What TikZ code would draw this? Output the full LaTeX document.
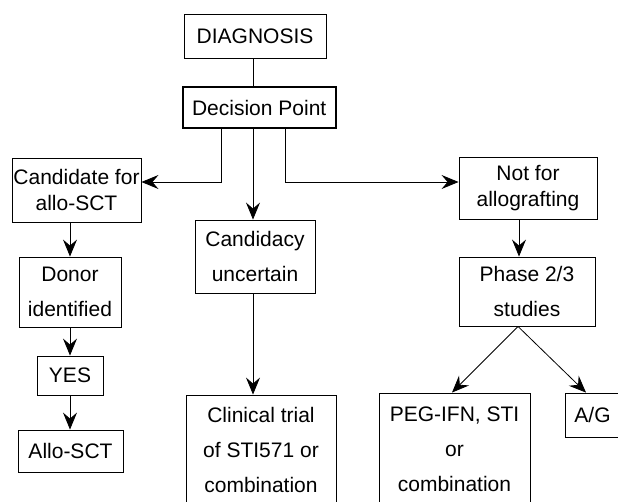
\documentclass[tikz,border=0pt]{standalone}
\usepackage{fontspec}
\setmainfont{Liberation Sans}
\usetikzlibrary{arrows.meta}
\tikzset{
  box/.style={draw, line width=0.9pt, inner sep=0pt, align=center, font=\fontsize{21}{35}\selectfont},
  tightbox/.style={box, font=\fontsize{21}{26}\selectfont},
  arr/.style={-{Stealth[length=17pt,width=14pt,inset=6pt]}, line width=0.8pt},
  plain/.style={line width=0.8pt}
}
\begin{document}
\begin{tikzpicture}[x=1pt,y=-1pt]
\useasboundingbox (0,0) rectangle (618,501);
\clip (0,0) rectangle (618,501);
% nodes
\node[box, minimum width=142, minimum height=44] (diag) at (255,36) {DIAGNOSIS};
\node[box, line width=2.4pt, minimum width=153, minimum height=41] (dp) at (259.2,107.5) {Decision Point};
\node[tightbox, minimum width=129, minimum height=64] (cand) at (76.5,190) {Candidate for\\allo-SCT};
\node[box, minimum width=102, minimum height=70] (donor) at (70,292) {Donor\\identified};
\node[box, minimum width=66, minimum height=39] (yes) at (70,375.5) {YES};
\node[box, minimum width=105, minimum height=42] (allo) at (70.5,451) {Allo-SCT};
\node[box, minimum width=120, minimum height=73] (cu) at (255,256.5) {Candidacy\\uncertain};
\node[box, minimum width=150, minimum height=110] (ct) at (261,450) {Clinical trial\\of STI571 or\\combination};
\node[tightbox, minimum width=138, minimum height=62] (nfa) at (528,188) {Not for\\allografting};
\node[box, minimum width=136, minimum height=69] (ph) at (527,291.5) {Phase 2/3\\studies};
\node[box, minimum width=151, minimum height=112] (peg) at (454.5,449) {PEG-IFN, STI\\or\\combination};
\node[box, minimum width=55, minimum height=44] (ag) at (592.5,415) {A/G};
% junction coordinates
\coordinate (jl) at (221,182);
\coordinate (jr) at (285.3,182);
\coordinate (mx) at (253,0);
\coordinate (rx) at (519,0);
\coordinate (px) at (518,0);
\coordinate (pl) at (452,0);
\coordinate (pr) at (586,0);
% connectors
\draw[plain] (diag.south -| mx) -- (dp.north -| mx);
\draw[arr] (jl |- dp.south) -- (jl) -- (jl -| cand.east);
\draw[arr] (jr |- dp.south) -- (jr) -- (jr -| nfa.west);
\draw[arr] (dp.south -| mx) -- (cu.north -| mx);
\draw[arr] (cand.south -| donor.north) -- (donor.north);
\draw[arr] (donor.south) -- (yes.north);
\draw[arr] (yes.south) -- (allo.north -| yes.south);
\draw[arr] (cu.south -| mx) -- (ct.north -| mx);
\draw[arr] (nfa.south -| rx) -- (ph.north -| rx);
\draw[arr] (ph.south -| px) -- (peg.north -| pl);
\draw[arr] (ph.south -| px) -- (ag.north -| pr);
\end{tikzpicture}
\end{document}
